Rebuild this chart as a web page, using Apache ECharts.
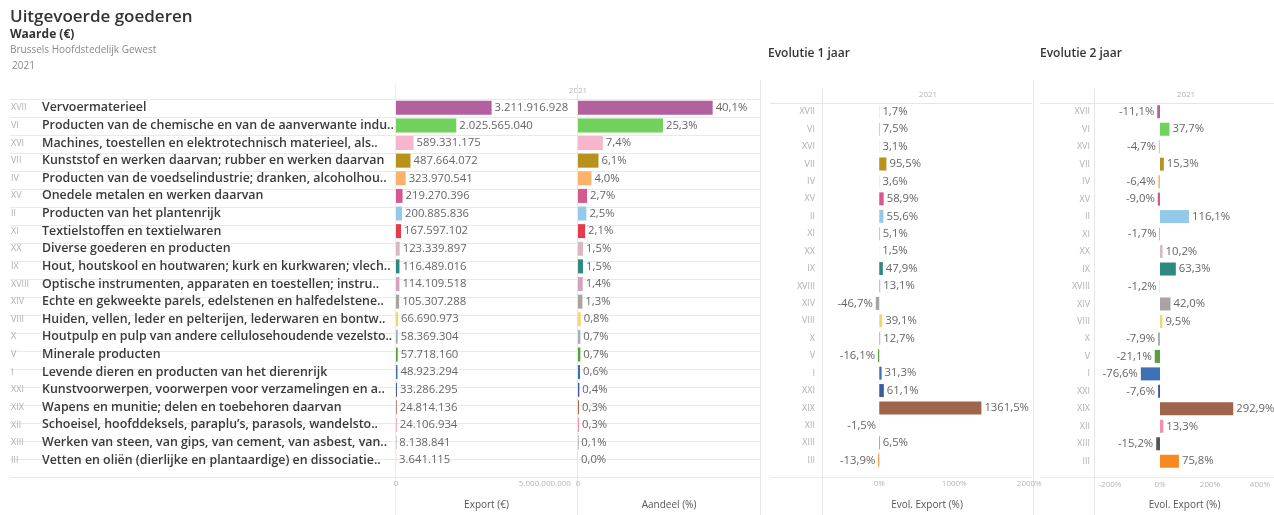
<!DOCTYPE html>
<html>
<head>
<meta charset="utf-8">
<script src="https://cdn.jsdelivr.net/npm/echarts@6/dist/echarts.min.js"></script>
<style>
  html, body { margin: 0; padding: 0; background: #fff; }
  #chart { width: 1274px; height: 515px; }
</style>
</head>
<body>
<div id="chart"></div>
<script>
// section codes and names, sorted by export value
var codes = ['XVII', 'VI', 'XVI', 'VII', 'IV', 'XV', 'II', 'XI', 'XX', 'IX', 'XVIII',
  'XIV', 'VIII', 'X', 'V', 'I', 'XXI', 'XIX', 'XII', 'XIII', 'III'];
var names = [
  'Vervoermaterieel',
  'Producten van de chemische en van de aanverwante indu..',
  'Machines, toestellen en elektrotechnisch materieel, als..',
  'Kunststof en werken daarvan; rubber en werken daarvan',
  'Producten van de voedselindustrie; dranken, alcoholhou..',
  'Onedele metalen en werken daarvan',
  'Producten van het plantenrijk',
  'Textielstoffen en textielwaren',
  'Diverse goederen en producten',
  'Hout, houtskool en houtwaren; kurk en kurkwaren; vlech..',
  'Optische instrumenten, apparaten en toestellen; instru..',
  'Echte en gekweekte parels, edelstenen en halfedelstene..',
  'Huiden, vellen, leder en pelterijen, lederwaren en bontw..',
  'Houtpulp en pulp van andere cellulosehoudende vezelsto..',
  'Minerale producten',
  'Levende dieren en producten van het dierenrijk',
  'Kunstvoorwerpen, voorwerpen voor verzamelingen en a..',
  'Wapens en munitie; delen en toebehoren daarvan',
  'Schoeisel, hoofddeksels, paraplu\u2019s, parasols, wandelsto..',
  'Werken van steen, van gips, van cement, van asbest, van..',
  'Vetten en oli\u00ebn (dierlijke en plantaardige) en dissociatie..'
];
var exportValues = [3211916928, 2025565040, 589331175, 487664072, 323970541, 219270396,
  200885836, 167597102, 123339897, 116489016, 114109518, 105307288, 66690973, 58369304,
  57718160, 48923294, 33286295, 24814136, 24106934, 8138841, 3641115];
var shareValues = [40.1, 25.3, 7.4, 6.1, 4.0, 2.7, 2.5, 2.1, 1.5, 1.5, 1.4, 1.3, 0.8, 0.7,
  0.7, 0.6, 0.4, 0.3, 0.3, 0.1, 0.0];
var evol1Values = [1.7, 7.5, 3.1, 95.5, 3.6, 58.9, 55.6, 5.1, 1.5, 47.9, 13.1, -46.7, 39.1,
  12.7, -16.1, 31.3, 61.1, 1361.5, -1.5, 6.5, -13.9];
var evol2Values = [-11.1, 37.7, -4.7, 15.3, -6.4, -9.0, 116.1, -1.7, 10.2, 63.3, -1.2, 42.0,
  9.5, -7.9, -21.1, -76.6, -7.6, 292.9, 13.3, -15.2, 75.8];
var sectionColors = ['#b3619e', '#72d05c', '#f7b6cb', '#b8921c', '#fbb26b', '#d45a8e',
  '#95c9ea', '#e83a4c', '#d9b8c4', '#2e8a80', '#d3a2bd', '#aba3a3', '#f4d66c', '#9fb3bf',
  '#5a9e3f', '#3e70b5', '#3d5b9c', '#9f654b', '#f291a5', '#555555', '#f7891f'];

var FONT = '"Open Sans", sans-serif';
var chart = echarts.init(document.getElementById('chart'));

function thousands(n) {
  return String(Math.round(n)).replace(/\B(?=(\d{3})+(?!\d))/g, '.');
}
function pct(v) {
  return v.toFixed(1).replace('.', ',') + '%';
}

function barData(values, formatter) {
  return values.map(function (v, i) {
    return {
      value: v,
      itemStyle: { color: sectionColors[i] },
      label: { position: v < 0 ? 'left' : 'right', formatter: formatter(v) }
    };
  });
}

var labelStyle = { show: true, fontFamily: FONT, fontSize: 11.3, color: '#666', distance: 3 };
var tickLabel = { fontFamily: FONT, fontSize: 8, color: '#b5b5b5', margin: 11 };
var axisName = { fontFamily: FONT, fontSize: 10, color: '#555' };

function catAxis(grid, showLabels) {
  return {
    type: 'category', gridIndex: grid, data: codes, inverse: true,
    axisLine: { show: false }, axisTick: { show: false },
    axisLabel: showLabels || { show: false },
    splitLine: { show: false }
  };
}

var option = {
  animation: false,
  grid: [
    { left: 10, top: 99, width: 750, height: 378 },   // row lines
    { left: 396, top: 99, width: 181, height: 378 },  // export
    { left: 578, top: 99, width: 182, height: 378 },  // aandeel
    { left: 823, top: 103, width: 208, height: 375 }, // evol 1
    { left: 1095, top: 103, width: 179, height: 375 } // evol 2
  ],
  xAxis: [
    { type: 'value', gridIndex: 0, show: false, min: 0, max: 1 },
    {
      type: 'value', gridIndex: 1, min: 0, max: 6080000000, interval: 5000000000,
      axisLine: { show: false }, axisTick: { show: false }, splitLine: { show: false },
      axisLabel: Object.assign({ showMaxLabel: false, formatter: function (v) { return thousands(v); } }, tickLabel),
      name: 'Export (\u20ac)', nameLocation: 'middle', nameGap: 31, nameTextStyle: axisName
    },
    {
      type: 'value', gridIndex: 2, min: 0, max: 54.2, interval: 60,
      axisLine: { show: false }, axisTick: { show: false }, splitLine: { show: false },
      axisLabel: Object.assign({ showMaxLabel: false }, tickLabel),
      name: 'Aandeel (%)', nameLocation: 'middle', nameGap: 31, nameTextStyle: axisName
    },
    {
      type: 'value', gridIndex: 3, min: -750, max: 2023, interval: 250,
      axisLine: { show: false }, axisTick: { show: false }, splitLine: { show: false },
      axisLabel: Object.assign({
        showMaxLabel: false,
        formatter: function (v) { return v % 1000 === 0 ? v + '%' : ''; }
      }, tickLabel),
      name: 'Evol. Export (%)', nameLocation: 'middle', nameGap: 31, nameTextStyle: axisName
    },
    {
      type: 'value', gridIndex: 4, min: -260, max: 456, interval: 20,
      axisLine: { show: false }, axisTick: { show: false }, splitLine: { show: false },
      axisLabel: Object.assign({
        showMaxLabel: false,
        formatter: function (v) { return v % 200 === 0 ? v + '%' : ''; }
      }, tickLabel),
      name: 'Evol. Export (%)', nameLocation: 'middle', nameGap: 30, nameTextStyle: axisName
    }
  ],
  yAxis: [
    {
      type: 'category', gridIndex: 0, data: codes, inverse: true,
      axisLine: { show: false }, axisTick: { show: false }, axisLabel: { show: false },
      splitLine: { show: true, lineStyle: { color: '#e9e9e9', width: 1 } }
    },
    catAxis(1, {
      show: true, align: 'left', margin: 385,
      formatter: function (v, i) { return '{r|' + v + '}{n|' + names[i] + '}'; },
      rich: {
        r: { width: 31, fontFamily: FONT, fontSize: 9, color: '#b0b0b0' },
        n: { fontFamily: FONT, fontSize: 12.4, fontWeight: 600, color: '#3a3a3a' }
      }
    }),
    catAxis(2),
    catAxis(3, { show: true, margin: 8, fontFamily: FONT, fontSize: 9, color: '#b0b0b0' }),
    catAxis(4, { show: true, margin: 5, fontFamily: FONT, fontSize: 9, color: '#b0b0b0' })
  ],
  series: [
    {
      type: 'bar', xAxisIndex: 1, yAxisIndex: 1, barWidth: 14,
      data: barData(exportValues, thousands), label: labelStyle
    },
    {
      type: 'bar', xAxisIndex: 2, yAxisIndex: 2, barWidth: 14,
      data: barData(shareValues, pct), label: labelStyle
    },
    {
      type: 'bar', xAxisIndex: 3, yAxisIndex: 3, barWidth: 13,
      data: barData(evol1Values, pct), label: labelStyle
    },
    {
      type: 'bar', xAxisIndex: 4, yAxisIndex: 4, barWidth: 13,
      data: barData(evol2Values, pct), label: labelStyle
    }
  ],
  graphic: [
    { type: 'text', left: 10, top: 9, style: { text: 'Uitgevoerde goederen', font: '600 17px ' + FONT, fill: '#333' } },
    { type: 'text', left: 10, top: 29, style: { text: 'Waarde (\u20ac)', font: '700 12px ' + FONT, fill: '#333' } },
    { type: 'text', left: 10, top: 45, style: { text: 'Brussels Hoofdstedelijk Gewest', font: '10px ' + FONT, fill: '#8a8a8a' } },
    { type: 'text', left: 12, top: 61, style: { text: '2021', font: '10px ' + FONT, fill: '#8a8a8a' } },
    { type: 'text', left: 768, top: 48, style: { text: 'Evolutie 1 jaar', font: '600 12px ' + FONT, fill: '#333' } },
    { type: 'text', left: 1040, top: 48, style: { text: 'Evolutie 2 jaar', font: '600 12px ' + FONT, fill: '#333' } },
    { type: 'text', x: 578, y: 91, style: { text: '2021', font: '8px ' + FONT, fill: '#b5b5b5', align: 'center', verticalAlign: 'middle' } },
    { type: 'text', x: 928, y: 95, style: { text: '2021', font: '8px ' + FONT, fill: '#b5b5b5', align: 'center', verticalAlign: 'middle' } },
    { type: 'text', x: 1186, y: 95, style: { text: '2021', font: '8px ' + FONT, fill: '#b5b5b5', align: 'center', verticalAlign: 'middle' } },
    // panel frame lines
    { type: 'line', shape: { x1: 395.5, y1: 84, x2: 395.5, y2: 515 }, style: { stroke: '#ececec' } },
    { type: 'line', shape: { x1: 577.5, y1: 84, x2: 577.5, y2: 515 }, style: { stroke: '#e6e6e6' } },
    { type: 'line', shape: { x1: 760.5, y1: 80, x2: 760.5, y2: 515 }, style: { stroke: '#e6e6e6' } },
    { type: 'line', shape: { x1: 822.5, y1: 88, x2: 822.5, y2: 515 }, style: { stroke: '#e6e6e6' } },
    { type: 'line', shape: { x1: 1033.5, y1: 80, x2: 1033.5, y2: 515 }, style: { stroke: '#e6e6e6' } },
    { type: 'line', shape: { x1: 1094.5, y1: 88, x2: 1094.5, y2: 515 }, style: { stroke: '#e6e6e6' } },
    { type: 'line', shape: { x1: 770, y1: 103.5, x2: 1032, y2: 103.5 }, style: { stroke: '#e6e6e6' } },
    { type: 'line', shape: { x1: 1040, y1: 103.5, x2: 1274, y2: 103.5 }, style: { stroke: '#e6e6e6' } },
    { type: 'line', shape: { x1: 770, y1: 477.5, x2: 1032, y2: 477.5 }, style: { stroke: '#ececec' } },
    { type: 'line', shape: { x1: 1040, y1: 477.5, x2: 1274, y2: 477.5 }, style: { stroke: '#ececec' } }
  ]
};

chart.setOption(option);
</script>
</body>
</html>
